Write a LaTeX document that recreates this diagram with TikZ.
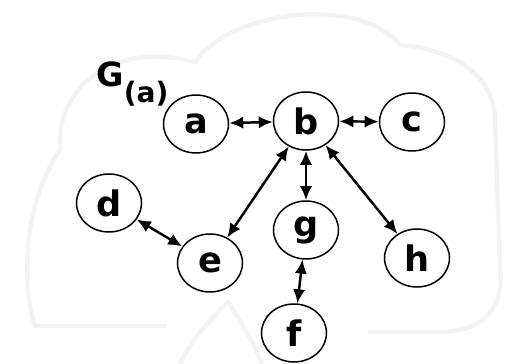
\documentclass[tikz,border=0pt]{standalone}
\usepackage{fontspec}
\setsansfont{DejaVu Sans}
\usetikzlibrary{arrows.meta, shapes.geometric}

\tikzset{
  vtx/.style={draw, ellipse, line width=0.85pt, minimum width=37pt, minimum height=33pt, inner sep=0pt, font=\sffamily\bfseries\fontsize{20}{20}\selectfont},
  lnk/.style={{Latex[length=8pt,width=7pt]}-{Latex[length=8pt,width=7pt]}, line width=1.4pt},
  cloudline/.style={draw=gray!10, line width=2.5pt, line cap=round}
}

\begin{document}
\begin{tikzpicture}[x=0.02cm, y=-0.02cm]
\useasboundingbox (0,0) rectangle (512,364);
\draw[cloudline] (35,326) .. controls (20,280) and (25,200) .. (60,150) .. controls (55,90) and (110,40) .. (195,62) .. controls (230,10) and (360,-5) .. (400,45) .. controls (460,50) and (495,80) .. (495,120) -- (500,270) .. controls (505,310) and (480,332) .. (440,332) -- (370,332);
\draw[cloudline] (35,326) -- (165,326);
\draw[cloudline] (180,364) .. controls (190,340) and (215,315) .. (228,302) .. controls (240,320) and (255,345) .. (262,364);
\node[vtx] (a) at (196,124) {a};
\node[vtx] (b) at (306,121) {b};
\node[vtx] (c) at (412,122) {c};
\node[vtx] (d) at (109,203) {d};
\node[vtx] (e) at (210,263) {e};
\node[vtx] (g) at (306,230) {g};
\node[vtx] (h) at (417,258) {h};
\node[vtx] (f) at (294,333) {f};
\node[anchor=base west, inner sep=0pt, font=\sffamily\bfseries\fontsize{19}{19}\selectfont] (gname) at (96,87) {G\raisebox{-9pt}{\fontsize{16}{16}\selectfont(a)}};
\draw[lnk] (a) -- (b);
\draw[lnk] (b) -- (c);
\draw[lnk] (d) -- (e);
\draw[lnk] (b) -- (e);
\draw[lnk] (b) -- (g);
\draw[lnk] (b) -- (h);
\draw[lnk] (g) -- (f);
\end{tikzpicture}
\end{document}
